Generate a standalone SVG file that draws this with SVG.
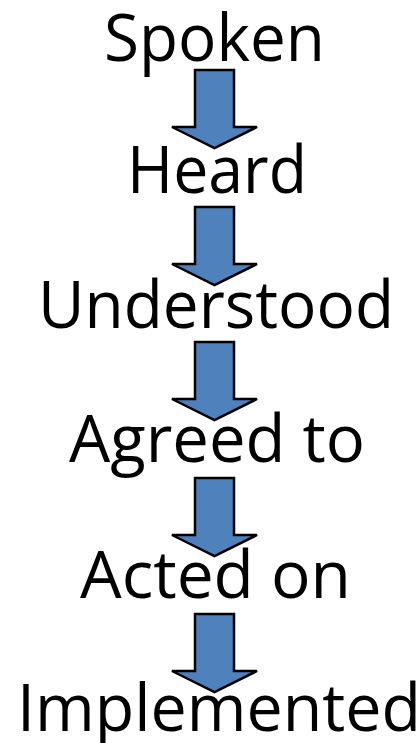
<svg xmlns="http://www.w3.org/2000/svg" width="420" height="743" viewBox="0 0 420 743">
<style>
.t{font-family:"Open Sans","Noto Sans","Liberation Sans",sans-serif;font-size:66px;fill:#000}
.a{fill:#4F81BD;stroke:#000;stroke-width:2.5;stroke-linejoin:miter}
</style>
<defs>
<polygon id="arr" class="a" points="195,0 234,0 234,57 257,57 214.5,78 172,57 195,57"/>
</defs>
<rect width="420" height="743" fill="#fff"/>
<g id="connectors">
<use href="#arr" y="70"/>
<use href="#arr" y="207"/>
<use href="#arr" y="342"/>
<use href="#arr" y="478"/>
<use href="#arr" y="614"/>
</g>
<g id="spoken"><text class="t" x="104" y="61" textLength="221" lengthAdjust="spacingAndGlyphs">Spoken</text></g>
<g id="heard"><text class="t" x="127" y="193" textLength="180" lengthAdjust="spacingAndGlyphs">Heard</text></g>
<g id="understood"><text class="t" x="38" y="328" textLength="356" lengthAdjust="spacingAndGlyphs">Understood</text></g>
<g id="agreed"><text class="t" x="69" y="462" textLength="296" lengthAdjust="spacingAndGlyphs">Agreed to</text></g>
<g id="acted"><text class="t" x="80" y="598" textLength="271" lengthAdjust="spacingAndGlyphs">Acted on</text></g>
<g id="implemented"><text class="t" x="17" y="731" textLength="404" lengthAdjust="spacingAndGlyphs">Implemented</text></g>
</svg>
